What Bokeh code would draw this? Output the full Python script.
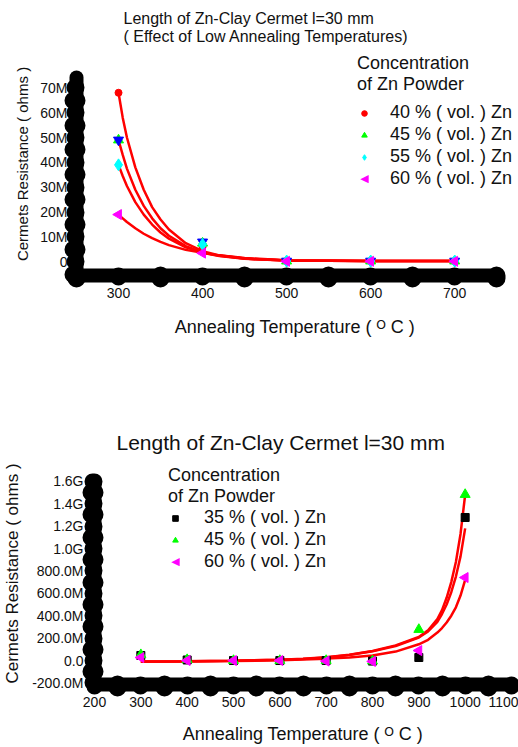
from bokeh.plotting import figure
from bokeh.models import (FixedTicker, Legend, LegendItem, Range1d, ColumnDataSource,
                          Label)
from bokeh.embed import file_html
from bokeh.resources import INLINE
import math

FONT = "Liberation Sans"

# ---------------- Top chart data (resistance in M ohm) ----------------
temps_low = [300, 400, 500, 600, 700]
r40 = [68, 6.0, 0.3, 0.3, 0.3]
r45 = [49, 7.5, 0.3, 0.3, 0.3]
r50 = [49, 8.0, 0.3, 0.3, 0.3]   # blue inverted triangles (no legend entry)
r55 = [39, 7.0, 0.3, 0.3, 0.3]
r60 = [19, 3.5, 0.2, 0.2, 0.2]

fit_t_low = [300, 305, 310, 320, 330, 340, 350, 360, 380, 400, 420, 450, 500, 600, 700]
fit40 = [68, 58, 50, 38, 29, 22, 17, 13, 7.5, 4.3, 2.6, 1.3, 0.5, 0.3, 0.3]
fit45 = [49, 43, 37.5, 29, 22.5, 17.5, 13.5, 10.5, 6.3, 3.8, 2.4, 1.3, 0.5, 0.3, 0.3]
fit55 = [39, 34.5, 30.5, 24, 19, 15, 11.8, 9.3, 5.8, 3.6, 2.3, 1.2, 0.5, 0.3, 0.3]
fit60 = [19, 17.5, 16, 13.5, 11.3, 9.5, 8, 6.7, 4.8, 3.6, 2.6, 1.5, 0.6, 0.3, 0.3]

top_yticks = [0, 10, 20, 30, 40, 50, 60, 70]
top_ylabels = ["0", "10M", "20M", "30M", "40M", "50M", "60M", "70M"]
top_yminor = [-5, 5, 15, 25, 35, 45, 55, 65]
top_xticks = [300, 400, 500, 600, 700]
top_xminor = [250, 350, 450, 550, 650, 750]

# ---------------- Bottom chart data (resistance in M ohm) ----------------
temps_all = [300, 400, 500, 600, 700, 800, 900, 1000]
b35 = [45, 5, 0, 0, 0, -5, 27, 1277]
b45 = [52, 8, 0, 0, 0, -5, 277, 1482]
b60 = [27, 0, 0, 0, -5, -8, 89, 741]

fit_t_all = [300, 400, 500, 600, 650, 700, 750, 800, 850, 900, 920, 940, 950,
             960, 970, 980, 990, 1000]
bfit45 = [-8, -6, -2, 7, 15, 30, 52, 85, 135, 210, 270, 370, 450, 560, 700, 880, 1130, 1480]
bfit35 = [-8, -6, -2, 6, 14, 28, 50, 82, 130, 205, 260, 345, 415, 500, 610, 750, 930, 1180]
bfit60 = [-10, -8, -5, 3, 9, 17, 28, 45, 80, 145, 185, 250, 290, 340, 400, 475, 580, 720]

bot_yticks = [-200, 0, 200, 400, 600, 800, 1000, 1200, 1400, 1600]
bot_ylabels = ["-200.0M", "0.0", "200.0M", "400.0M", "600.0M", "800.0M",
               "1.0G", "1.2G", "1.4G", "1.6G"]
bot_yminor = [-100, 100, 300, 500, 700, 900, 1100, 1300, 1500]
bot_xticks = [200, 300, 400, 500, 600, 700, 800, 900, 1000, 1100]
bot_xminor = [250, 350, 450, 550, 650, 750, 850, 950, 1050]

XLABEL = "Annealing Temperature ( \u1d3c C )"
YLABEL = "Cermets Resistance ( ohms )"
LEG_TITLE = "Concentration\nof Zn Powder"


def style_axes(p, xstand, ystand, xlab_stand, ylab_stand, ylab_size):
    for ax in (p.xaxis[0], p.yaxis[0]):
        ax.axis_line_color = "black"
        ax.axis_line_width = 14
        ax.axis_line_cap = "round"
        ax.major_tick_line_color = "black"
        ax.major_tick_line_width = 16
        ax.major_tick_line_cap = "round"
        ax.major_tick_in = 0
        ax.major_tick_out = 2
        ax.minor_tick_line_color = "black"
        ax.minor_tick_line_width = 18
        ax.minor_tick_line_cap = "round"
        ax.minor_tick_in = 0
        ax.minor_tick_out = 3
        ax.major_label_text_font = FONT
        ax.major_label_text_font_size = "14px"
        ax.major_label_text_color = "#111111"
        ax.axis_label_text_font = FONT
        ax.axis_label_text_font_style = "normal"
        ax.axis_label_text_color = "#111111"
    p.xaxis[0].axis_label_text_font_size = "18px"
    p.yaxis[0].axis_label_text_font_size = ylab_size
    p.xaxis[0].major_label_standoff = xstand
    p.yaxis[0].major_label_standoff = ystand
    p.xaxis[0].axis_label_standoff = xlab_stand
    p.yaxis[0].axis_label_standoff = ylab_stand
    p.xgrid.visible = False
    p.ygrid.visible = False
    p.outline_line_color = None


def make_legend(items, loc, title_standoff, label_standoff):
    lg = Legend(items=items, location=loc)
    lg.title = LEG_TITLE
    lg.title_text_font = FONT
    lg.title_text_font_size = "18px"
    lg.title_text_font_style = "normal"
    lg.title_text_color = "#111111"
    lg.title_text_line_height = 1.05
    lg.title_standoff = title_standoff
    lg.label_text_font = FONT
    lg.label_text_font_size = "18px"
    lg.label_text_color = "#111111"
    lg.glyph_width = 14
    lg.glyph_height = 16
    lg.label_standoff = label_standoff
    lg.label_height = 20
    lg.spacing = 1
    lg.padding = 0
    lg.margin = 0
    lg.border_line_alpha = 0
    lg.background_fill_alpha = 0
    return lg


def left_triangle_key(p, x, y):
    # legend key for the left-pointing triangle series
    p.add_layout(Label(x=x, y=y, x_units="screen", y_units="screen", text="\u25c0",
                       text_font="DejaVu Sans", text_font_size="11px",
                       text_color="#ff00ff", text_align="center",
                       text_baseline="middle"))


# ---------------- Top figure ----------------
p1 = figure(width=518, height=385, output_backend="svg", toolbar_location=None,
            x_range=Range1d(250, 770), y_range=Range1d(-5.5, 84.2),
            min_border_left=76, min_border_right=5, min_border_top=48,
            min_border_bottom=110)
p1.title.text = "Length of Zn-Clay Cermet l=30 mm\n( Effect of Low Annealing Temperatures)"
p1.title.text_font = FONT
p1.title.text_font_size = "16px"
p1.title.text_font_style = "normal"
p1.title.text_color = "#111111"
p1.title.text_line_height = 1.1
p1.title.align = "left"
p1.title.offset = 47
p1.title.standoff = 14

p1.xaxis.ticker = FixedTicker(ticks=top_xticks, minor_ticks=top_xminor)
p1.yaxis.ticker = FixedTicker(ticks=top_yticks, minor_ticks=top_yminor)
p1.yaxis.major_label_overrides = dict(zip(top_yticks, top_ylabels))
p1.xaxis.bounds = (250, 750)
p1.yaxis.bounds = (-5.5, 74.3)
p1.xaxis.axis_label = XLABEL
p1.yaxis.axis_label = YLABEL
style_axes(p1, 9, 6, 16, 6, "15px")

for fy in (fit40, fit45, fit55, fit60):
    p1.line(fit_t_low, fy, line_color="#ff0000", line_width=2.5)

src60 = ColumnDataSource(dict(x=temps_low, y=r60, a=[math.pi / 2] * len(temps_low)))
s40 = p1.scatter(temps_low, r40, marker="circle", size=7, color="#ff0000")
s45 = p1.scatter(temps_low, r45, marker="triangle", size=10, color="#00ff00")
p1.scatter(temps_low, r50, marker="inverted_triangle", size=10, color="#0000ff")
s55 = p1.scatter(temps_low, r55, marker="diamond", size=12, color="#00ffff")
p1.scatter("x", "y", source=src60, marker="triangle", size=10, color="#ff00ff", angle="a")
k60 = p1.scatter("x", "y", source=src60, marker="triangle", size=10, alpha=0)

leg1 = make_legend([
    LegendItem(label="40 % ( vol. ) Zn", renderers=[s40]),
    LegendItem(label="45 % ( vol. ) Zn", renderers=[s45]),
    LegendItem(label="55 % ( vol. ) Zn", renderers=[s55]),
    LegendItem(label="60 % ( vol. ) Zn", renderers=[k60]),
], (281, 86), 7, 19)
p1.add_layout(leg1)
left_triangle_key(p1, 288, 97)

# ---------------- Bottom figure ----------------
p2 = figure(width=518, height=362, output_backend="svg", toolbar_location=None,
            x_range=Range1d(200, 1100), y_range=Range1d(-214, 1768),
            min_border_left=93, min_border_right=7, min_border_top=77,
            min_border_bottom=63)
p2.title.text = "Length of Zn-Clay Cermet l=30 mm"
p2.title.text_font = FONT
p2.title.text_font_size = "21px"
p2.title.text_font_style = "normal"
p2.title.text_color = "#111111"
p2.title.align = "left"
p2.title.offset = 22
p2.title.standoff = 17

p2.xaxis.ticker = FixedTicker(ticks=bot_xticks, minor_ticks=bot_xminor)
p2.yaxis.ticker = FixedTicker(ticks=bot_yticks, minor_ticks=bot_yminor)
p2.yaxis.major_label_overrides = dict(zip(bot_yticks, bot_ylabels))
p2.yaxis.bounds = (-214, 1590)
p2.xaxis.axis_label = XLABEL
p2.yaxis.axis_label = YLABEL
style_axes(p2, 9, 8, 14, 7, "17px")

for fy in (bfit45, bfit35, bfit60):
    p2.line(fit_t_all, fy, line_color="#ff0000", line_width=2.5)

srcb60 = ColumnDataSource(dict(x=temps_all, y=b60, a=[math.pi / 2] * len(temps_all)))
t35 = p2.scatter(temps_all, b35, marker="square", size=8, color="#000000")
t45 = p2.scatter(temps_all, b45, marker="triangle", size=10, color="#00ff00")
p2.scatter("x", "y", source=srcb60, marker="triangle", size=10, color="#ff00ff", angle="a")
kb60 = p2.scatter("x", "y", source=srcb60, marker="triangle", size=10, alpha=0)

leg2 = make_legend([
    LegendItem(label="35 % ( vol. ) Zn", renderers=[t35]),
    LegendItem(label="45 % ( vol. ) Zn", renderers=[t45]),
    LegendItem(label="60 % ( vol. ) Zn", renderers=[kb60]),
], (74, 112), 0, 22)
p2.add_layout(leg2)
left_triangle_key(p2, 81, 123)

open("out.html", "w").write(file_html([p1, p2], INLINE))
